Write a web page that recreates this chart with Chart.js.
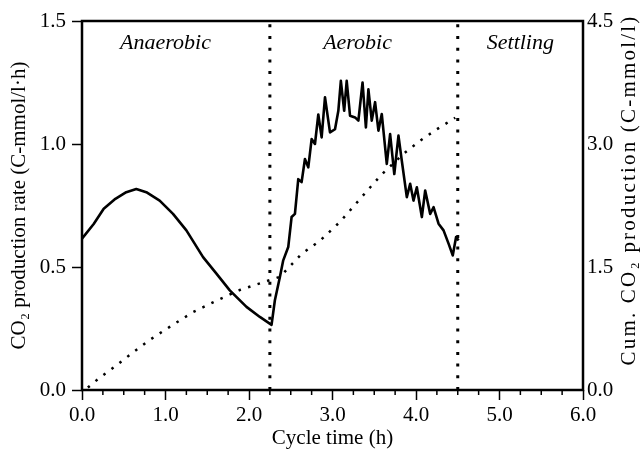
<!DOCTYPE html>
<html>
<head>
<meta charset="utf-8">
<script src="https://cdn.jsdelivr.net/npm/chart.js@4"></script>
<style>
  html, body { margin: 0; padding: 0; background: #fff; }
</style>
</head>
<body>
<canvas id="myChart" width="640" height="455"></canvas>
<script>
// CO2 production rate (left axis)
const rateTime = [0, 0.14, 0.26, 0.40, 0.53, 0.65, 0.77, 0.93, 1.09, 1.25, 1.45, 1.61, 1.77, 1.97, 2.13, 2.27,
  2.31, 2.37, 2.41, 2.47, 2.51, 2.55, 2.59, 2.63, 2.67, 2.71, 2.75, 2.79, 2.83, 2.87, 2.91, 2.97, 3.03, 3.07,
  3.10, 3.14, 3.17, 3.21, 3.27, 3.31, 3.36, 3.40, 3.43, 3.47, 3.51, 3.55, 3.59, 3.65, 3.69, 3.74, 3.79, 3.83,
  3.89, 3.93, 3.97, 4.01, 4.07, 4.11, 4.17, 4.21, 4.27, 4.33, 4.39, 4.44, 4.48, 4.51];
const rateValue = [0.615, 0.675, 0.737, 0.777, 0.804, 0.817, 0.804, 0.77, 0.716, 0.649, 0.54, 0.473, 0.405, 0.338, 0.297, 0.265,
  0.365, 0.459, 0.527, 0.581, 0.703, 0.716, 0.857, 0.845, 0.939, 0.905, 1.02, 1.0, 1.12, 1.027, 1.19, 1.047, 1.06, 1.135,
  1.257, 1.135, 1.257, 1.115, 1.108, 1.095, 1.25, 1.067, 1.222, 1.095, 1.17, 1.054, 1.122, 0.919, 1.04, 0.878, 1.034, 0.932,
  0.784, 0.838, 0.77, 0.824, 0.703, 0.811, 0.716, 0.743, 0.676, 0.649, 0.595, 0.547, 0.622, 0.608];

// cumulative CO2 production (right axis)
const cumTime = [0.07, 0.2, 0.4, 0.6, 0.81, 1.05, 1.33, 1.61, 1.89, 2.25, 2.37, 2.63, 2.85, 3.09, 3.33, 3.45, 3.59, 3.85, 4.05, 4.25, 4.47];
const cumValue = [0.03, 0.14, 0.29, 0.45, 0.61, 0.77, 0.95, 1.09, 1.22, 1.34, 1.38, 1.66, 1.82, 2.05, 2.33, 2.47, 2.63, 2.88, 3.04, 3.18, 3.32];

// phases
const phaseEnds = [2.25, 4.5];
const phaseNames = ['Anaerobic', 'Aerobic', 'Settling'];
const phaseLabelX = [1.0, 3.3, 5.25];
const phaseLabelY = 1.41;

const serif = '"Liberation Serif", "Times New Roman", serif';

function pts(xs, ys) {
  return xs.map((x, i) => ({x: x, y: ys[i]}));
}

const datasets = [
  {
    label: 'rate',
    data: pts(rateTime, rateValue),
    yAxisID: 'y',
    borderColor: '#000',
    borderWidth: 2.6,
    borderJoinStyle: 'round',
    pointRadius: 0,
    tension: 0
  },
  {
    label: 'cumulative',
    data: pts(cumTime, cumValue),
    yAxisID: 'y2',
    borderColor: '#000',
    borderWidth: 2.5,
    borderDash: [2.5, 7.5],
    pointRadius: 0,
    tension: 0
  }
];
phaseEnds.forEach(e => {
  datasets.push({
    label: 'phase end',
    data: pts([e, e], [0, 1.5]),
    yAxisID: 'y',
    borderColor: '#000',
    borderWidth: 3,
    borderDash: [3, 8.7],
    pointRadius: 0
  });
});

// frame, minor ticks, phase names, right axis title
const decor = {
  id: 'decor',
  afterDraw(chart) {
    const ctx = chart.ctx;
    const a = chart.chartArea;
    const xs = chart.scales.x;
    const ys = chart.scales.y;
    ctx.save();
    ctx.strokeStyle = '#000';
    ctx.lineWidth = 2.5;
    ctx.strokeRect(a.left, a.top, a.right - a.left, a.bottom - a.top);

    ctx.lineWidth = 1.5;
    for (let v = 0.25; v < 6; v += 0.25) {
      if (Math.abs(v - Math.round(v)) < 0.01) continue;
      const px = xs.getPixelForValue(v);
      ctx.beginPath();
      ctx.moveTo(px, a.bottom);
      ctx.lineTo(px, a.bottom + 5);
      ctx.stroke();
    }

    ctx.fillStyle = '#000';
    ctx.font = 'italic 22px ' + serif;
    ctx.textAlign = 'center';
    ctx.textBaseline = 'middle';
    phaseNames.forEach((n, i) => {
      ctx.fillText(n, xs.getPixelForValue(phaseLabelX[i]), ys.getPixelForValue(phaseLabelY));
    });

    ctx.font = '21px ' + serif;
    ctx.letterSpacing = '2.2px';
    ctx.translate(629, 190);
    ctx.rotate(-Math.PI / 2);
    ctx.fillText('Cum. CO\u2082 production (C-mmol/l)', 0, 0);
    ctx.restore();
  }
};

new Chart(document.getElementById('myChart'), {
  type: 'line',
  data: {datasets: datasets},
  plugins: [decor],
  options: {
    responsive: false,
    animation: false,
    devicePixelRatio: 1,
    layout: {padding: {top: 21, left: 0, right: 0, bottom: 0}},
    plugins: {legend: {display: false}, tooltip: {enabled: false}},
    scales: {
      x: {
        type: 'linear',
        min: 0,
        max: 6,
        ticks: {stepSize: 1, color: '#000', padding: 3, font: {family: serif, size: 21},
          callback: v => v.toFixed(1)},
        grid: {drawOnChartArea: false, tickLength: 10, tickColor: '#000', tickWidth: 1.5},
        border: {display: false},
        title: {display: true, text: 'Cycle time (h)', color: '#000', font: {family: serif, size: 21},
          padding: {top: 0, bottom: 4}},
        afterFit: s => { s.height = 65; }
      },
      y: {
        position: 'left',
        min: 0,
        max: 1.5,
        ticks: {stepSize: 0.5, color: '#000', padding: 6, font: {family: serif, size: 21},
          callback: v => v.toFixed(1)},
        grid: {drawOnChartArea: false, tickLength: 10, tickColor: '#000', tickWidth: 1.5},
        border: {display: false},
        title: {display: true, text: 'CO\u2082 production rate (C-mmol/l\u00b7h)', color: '#000',
          font: {family: serif, size: 21}, padding: {top: 7, bottom: 0}},
        afterFit: s => { s.width = 82; }
      },
      y2: {
        position: 'right',
        min: 0,
        max: 4.5,
        ticks: {stepSize: 1.5, color: '#000', padding: 4, font: {family: serif, size: 21},
          callback: v => v.toFixed(1)},
        grid: {display: false, drawTicks: false},
        border: {display: false},
        afterFit: s => { s.width = 57; }
      }
    }
  }
});
</script>
</body>
</html>
